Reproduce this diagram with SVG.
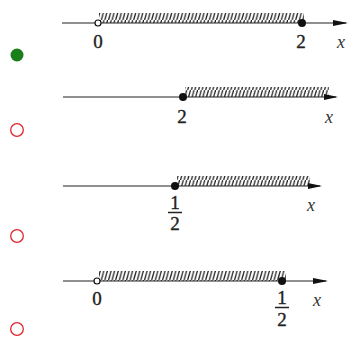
<svg xmlns="http://www.w3.org/2000/svg" width="360" height="343" viewBox="0 0 360 343">
<defs>
<pattern id="hatch" width="3.6" height="10" patternUnits="userSpaceOnUse">
<line x1="0.5" y1="10" x2="3.3" y2="0" stroke="#222" stroke-width="1.3"/>
</pattern>
</defs>
<style>
.ax{stroke:#222;stroke-width:1.2;fill:none}
.arr{fill:#111}
.dot{fill:#111}
.odot{fill:#fff;stroke:#111;stroke-width:1.2}
.t{font-family:"Liberation Serif","Times New Roman",serif;font-size:19px;fill:#222;stroke:#222;stroke-width:0.35;text-anchor:middle}
.xi{font-family:"Liberation Serif","Times New Roman",serif;font-size:18px;font-style:italic;fill:#333;text-anchor:middle}
.fr{stroke:#222;stroke-width:1.5}
.opt-ok{fill:#1a7f1a}
.opt{fill:none;stroke:#e0242c;stroke-width:1.3}
</style>
<g id="options">
<circle class="opt-ok" cx="17" cy="55" r="6.5"/>
<circle class="opt" cx="17" cy="130" r="6.3"/>
<circle class="opt" cx="17" cy="236" r="6.3"/>
<circle class="opt" cx="17" cy="329" r="6.3"/>
</g>
<g id="axis1">
<rect x="99" y="13" width="205" height="10" fill="url(#hatch)"/>
<line class="ax" x1="62" y1="23" x2="346" y2="23"/>
<path class="arr" d="M333,20 L348,23 L333,26 Z"/>
<circle class="odot" cx="98" cy="23" r="3"/>
<circle class="dot" cx="302" cy="23" r="4"/>
<text class="t" x="98" y="48">0</text>
<text class="t" x="301" y="48">2</text>
<text class="xi" x="341" y="48">x</text>
</g>
<g id="axis2">
<rect x="185" y="87" width="144" height="10" fill="url(#hatch)"/>
<line class="ax" x1="63" y1="97" x2="336" y2="97"/>
<path class="arr" d="M324,94 L338,97 L324,100 Z"/>
<circle class="dot" cx="183" cy="97" r="4"/>
<text class="t" x="182" y="123">2</text>
<text class="xi" x="329" y="123">x</text>
</g>
<g id="axis3">
<rect x="177" y="176" width="133" height="10" fill="url(#hatch)"/>
<line class="ax" x1="63" y1="186" x2="320" y2="186"/>
<path class="arr" d="M308,183 L322,186 L308,189 Z"/>
<circle class="dot" cx="175" cy="186" r="4"/>
<text class="t" x="175" y="209">1</text>
<line class="fr" x1="168" y1="212.5" x2="182" y2="212.5"/>
<text class="t" x="175" y="230">2</text>
<text class="xi" x="311" y="211">x</text>
</g>
<g id="axis4">
<rect x="99" y="271" width="187" height="10" fill="url(#hatch)"/>
<line class="ax" x1="63" y1="281" x2="326" y2="281"/>
<path class="arr" d="M313,278 L328,281 L313,284 Z"/>
<circle class="odot" cx="97" cy="281" r="3"/>
<circle class="dot" cx="282" cy="281" r="4"/>
<text class="t" x="97" y="305">0</text>
<text class="t" x="282" y="304">1</text>
<line class="fr" x1="275" y1="307.5" x2="289" y2="307.5"/>
<text class="t" x="282" y="326">2</text>
<text class="xi" x="317" y="306">x</text>
</g>
</svg>
